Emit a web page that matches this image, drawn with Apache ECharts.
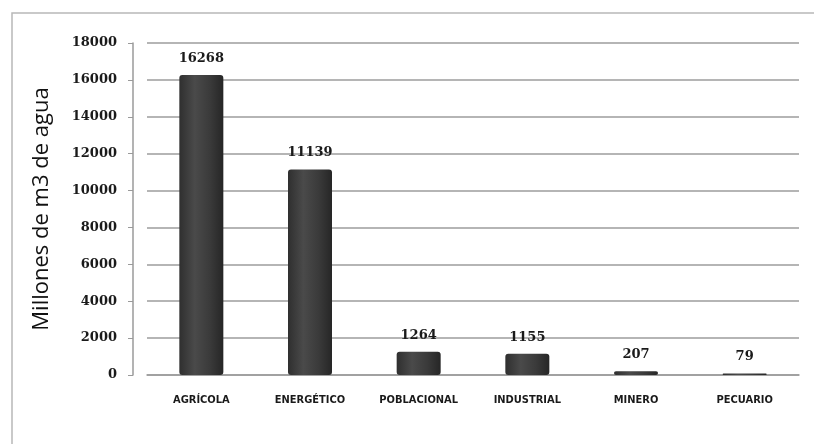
<!DOCTYPE html>
<html>
<head>
<meta charset="utf-8">
<script src="https://cdn.jsdelivr.net/npm/echarts@6/dist/echarts.min.js"></script>
<style>
  html, body { margin: 0; padding: 0; background: #ffffff; }
  #chart { width: 814px; height: 444px; }
</style>
</head>
<body>
<div id="chart"></div>
<script>
const categories = ['AGRÍCOLA', 'ENERGÉTICO', 'POBLACIONAL', 'INDUSTRIAL', 'MINERO', 'PECUARIO'];
const values = [16268, 11139, 1264, 1155, 207, 79];
const yAxisName = 'Millones de m3 de agua';
const yMin = 0, yMax = 18000, yInterval = 2000;

const chart = echarts.init(document.getElementById('chart'), null, { renderer: 'canvas' });

const barColor = new echarts.graphic.LinearGradient(0, 0, 1, 0, [
  { offset: 0, color: '#2f2f2f' },
  { offset: 0.35, color: '#4a4a4a' },
  { offset: 0.7, color: '#3a3a3a' },
  { offset: 1, color: '#262626' }
]);

chart.setOption({
  backgroundColor: '#ffffff',
  animation: false,
  graphic: [{
    type: 'rect',
    shape: { x: 12, y: 13, width: 830, height: 460 },
    style: { fill: 'none', stroke: '#b8b8b8', lineWidth: 1.5 },
    silent: true, z: -10
  }],
  grid: { left: 147, right: 15, top: 43, bottom: 69 },
  xAxis: {
    type: 'category',
    data: categories,
    axisLine: { show: true, lineStyle: { color: '#9a9a9a', width: 1.5 } },
    axisTick: { show: false },
    axisLabel: {
      interval: 0,
      margin: 20,
      color: '#1a1a1a',
      fontFamily: 'DejaVu Sans Condensed, DejaVu Sans, sans-serif',
      fontWeight: 'bold',
      fontSize: 11
    }
  },
  yAxis: {
    type: 'value',
    min: yMin, max: yMax, interval: yInterval,
    offset: 14,
    name: yAxisName,
    nameLocation: 'middle',
    nameRotate: 90,
    nameGap: 80,
    nameTextStyle: { fontFamily: 'Open Sans, Liberation Sans, sans-serif', fontSize: 22, color: '#111' },
    axisLine: { show: true, lineStyle: { color: '#9a9a9a', width: 1.5 } },
    axisTick: { show: true, inside: false, length: 5, lineStyle: { color: '#9a9a9a' } },
    axisLabel: {
      margin: 16,
      color: '#1a1a1a',
      fontFamily: 'DejaVu Serif, serif',
      fontWeight: 'bold',
      fontSize: 13,
      formatter: function (v) { return String(v); }
    },
    splitLine: { show: true, lineStyle: { color: '#9c9c9c', width: 1.5 } }
  },
  series: [{
    type: 'bar',
    data: values,
    barWidth: 44,
    itemStyle: { color: barColor, borderRadius: [3, 3, 3, 3] },
    label: {
      show: true,
      position: 'top',
      distance: 10,
      color: '#1a1a1a',
      fontFamily: 'DejaVu Serif, serif',
      fontWeight: 'bold',
      fontSize: 13
    }
  }]
});
</script>
</body>
</html>
